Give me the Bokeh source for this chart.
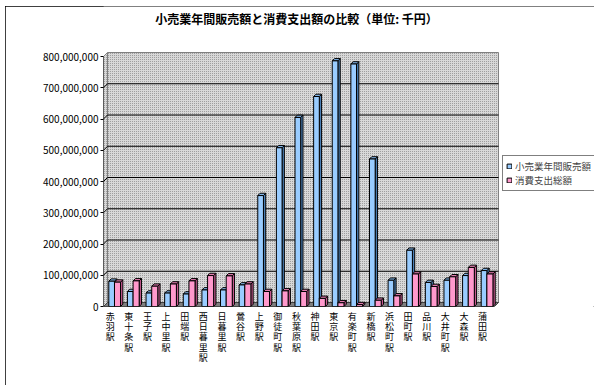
from bokeh.plotting import figure
from bokeh.models import Range1d, FixedTicker, NumeralTickFormatter, Legend, LegendItem, Label
from bokeh.embed import file_html
from bokeh.resources import INLINE

# ---------------- data ----------------
stations = ["赤羽駅", "東十条駅", "王子駅", "上中里駅", "田端駅", "西日暮里駅", "日暮里駅",
            "鶯谷駅", "上野駅", "御徒町駅", "秋葉原駅", "神田駅", "東京駅", "有楽町駅",
            "新橋駅", "浜松町駅", "田町駅", "品川駅", "大井町駅", "大森駅", "蒲田駅"]
retail = [81e6, 48e6, 43e6, 43e6, 40e6, 53e6, 53e6, 69e6, 355e6, 508e6, 605e6,
          672e6, 786e6, 776e6, 472e6, 84e6, 180e6, 77e6, 84e6, 99e6, 115e6]
spending = [78e6, 82e6, 65e6, 72e6, 82e6, 99e6, 98e6, 72e6, 48e6, 50e6, 48e6,
            26e6, 12e6, 6e6, 20e6, 34e6, 104e6, 64e6, 95e6, 125e6, 104e6]
y_ticks = [0, 100e6, 200e6, 300e6, 400e6, 500e6, 600e6, 700e6, 800e6]
series_names = ["小売業年間販売額", "消費支出総額"]
title_text = "小売業年間販売額と消費支出額の比較（単位: 千円）"

# ---------------- geometry ----------------
FONT = "Noto Sans CJK JP"
W, H = 589, 379
ML, MB = 98, 79
FW, FH = W - ML, H - MB
PX_X = 18.62                      # px per category
y_max = y_ticks[-1]
val_per_px = y_max / 250.0
n = len(stations)
x_end = FW / PX_X
y_end = FH * val_per_px
wx, wy = 4 / PX_X, 4 * val_per_px      # wall depth
dx, dy = 2.3 / PX_X, 2.3 * val_per_px  # bar depth

p = figure(width=W, height=H, x_range=Range1d(0, x_end), y_range=Range1d(0, y_end),
           output_backend="svg", toolbar_location=None,
           min_border_left=ML, min_border_right=0, min_border_top=0, min_border_bottom=MB)
p.styles = {"margin-left": "5px", "margin-top": "6px",
            "outline": "1px solid black", "outline-offset": "-1px"}
p.outline_line_color = None
p.grid.visible = False
p.background_fill_color = "white"
p.border_fill_color = "white"

# walls and floor
p.patch([0, wx, wx, 0], [0, wy, y_max + wy, y_max], fill_color="#d8d8d8",
        hatch_pattern="dot", hatch_color="#8c8c8c", hatch_scale=2, hatch_weight=1,
        line_color="#808080", line_width=1)
p.quad(left=[wx], right=[n + wx], bottom=[wy], top=[y_max + wy], fill_color="#d8d8d8",
       hatch_pattern="dot", hatch_color="#8c8c8c", hatch_scale=2, hatch_weight=1,
       line_color="#808080", line_width=1)
p.patch([0, n, n + wx, wx], [0, 0, wy, wy], fill_color="#808080", line_color="#404040")

# gridlines on side + back wall
gx = [[0, wx, n + wx] for v in y_ticks[1:-1]]
gy = [[v, v + wy, v + wy] for v in y_ticks[1:-1]]
p.multi_line(gx, gy, line_color="black", line_width=1)

def bar3d(x0s, x1s, vals, front, side, top):
    sx = [[b, b + dx, b + dx, b] for b in x1s]
    sy = [[0, dy, v + dy, v] for v in vals]
    p.patches(sx, sy, fill_color=side, line_color="black", line_width=1)
    tx = [[a, b, b + dx, a + dx] for a, b in zip(x0s, x1s)]
    ty = [[v, v, v + dy, v + dy] for v in vals]
    p.patches(tx, ty, fill_color=top, line_color="black", line_width=1)
    return p.quad(left=x0s, right=x1s, bottom=0, top=vals, fill_color=front,
                  line_color="black", line_width=1)

idx = list(range(n))
r1 = bar3d([i + 0.285 for i in idx], [i + 0.59 for i in idx], retail,
           "#99ccff", "#4a7fb5", "#7fb2e5")
r2 = bar3d([i + 0.59 for i in idx], [i + 0.915 for i in idx], spending,
           "#ff99cc", "#c4588e", "#e07aad")

# axis lines (front plane)
p.segment(x0=[0, 0], y0=[0, 0], x1=[0, n], y1=[y_max, 0], line_color="black", line_width=1)

# axes
ya = p.yaxis[0]
ya.ticker = FixedTicker(ticks=y_ticks)
ya.formatter = NumeralTickFormatter(format="0,0")
ya.major_tick_out = 3
ya.major_tick_in = 0
ya.minor_tick_out = 0
ya.minor_tick_in = 0
ya.major_label_standoff = 2
ya.axis_line_color = None
ya.major_label_text_font = FONT
ya.major_label_text_font_size = "10px"
ya.major_label_text_color = "black"

xa = p.xaxis[0]
ticks = [i + 0.36 for i in idx]
xa.ticker = FixedTicker(ticks=ticks)
xa.major_label_overrides = {t: "\n".join(s) for t, s in zip(ticks, stations)}
xa.major_tick_out = 0
xa.major_tick_in = 0
xa.minor_tick_out = 0
xa.minor_tick_in = 0
xa.major_label_standoff = 3
xa.axis_line_color = None
xa.major_label_text_font = FONT
xa.major_label_text_font_size = "9px"
xa.major_label_text_color = "black"
xa.major_label_text_line_height = 0.8

# title
p.add_layout(Label(x=(296 - 103) / PX_X, y=(305.7 - 18) * val_per_px, text=title_text,
                   text_align="center", text_baseline="middle", text_font=FONT,
                   text_font_size="12px", text_font_style="bold", text_color="black"))

legend = Legend(items=[LegendItem(label=series_names[0], renderers=[r1]),
                       LegendItem(label=series_names[1], renderers=[r2])],
                location=(399, 115), orientation="vertical")
legend.label_text_font = FONT
legend.label_text_font_size = "9.5px"
legend.glyph_width = 6
legend.glyph_height = 6
legend.label_height = 11
legend.label_standoff = 3
legend.spacing = 0
legend.padding = 3
legend.margin = 0
legend.border_line_color = "black"
legend.border_line_width = 1
legend.background_fill_color = "white"
legend.background_fill_alpha = 1
p.add_layout(legend)

open("out.html", "w").write(file_html(p, INLINE))
